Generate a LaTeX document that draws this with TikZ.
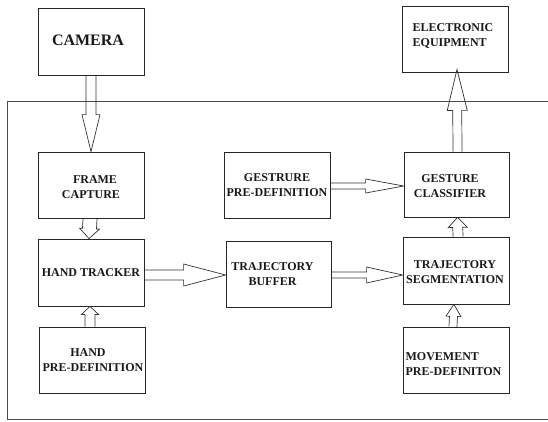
\documentclass[tikz,border=0pt]{standalone}
\usepackage{fontspec}
\setmainfont{Liberation Serif}
\usetikzlibrary{calc}
\newcommand\blockarrow[5]{%
  \coordinate (ba-s) at (#1);
  \coordinate (ba-t) at (#2);
  \coordinate (ba-h) at ($(ba-t)!#5!(ba-s)$);
  \draw[arrowline] ($(ba-s)!#3!90:(ba-t)$) -- ($(ba-h)!#3!90:(ba-t)$) -- ($(ba-h)!#4!90:(ba-t)$) -- (ba-t) -- ($(ba-h)!#4!-90:(ba-t)$) -- ($(ba-h)!#3!-90:(ba-t)$) -- ($(ba-s)!#3!-90:(ba-t)$);
}
\begin{document}
\begin{tikzpicture}[x=1pt,y=-1pt,
  box/.style={draw=black!85, line width=0.8pt, minimum width=106pt, minimum height=66pt, inner sep=0pt},
  txt/.style={font=\fontsize{12}{15}\selectfont\bfseries, align=center, inner sep=0pt, text=black!90},
  txtl/.style={txt, align=left},
  arrowline/.style={draw=black!80, line width=0.7pt, line join=miter}]
\useasboundingbox (0,0) rectangle (548,421);
\draw[draw=black!70, line width=0.9pt] (560,101) -- (7,101) -- (7,419) -- (560,419);

\node[box, minimum height=67pt, label={[txt, font=\fontsize{16}{18}\selectfont\bfseries, xshift=-3pt, yshift=1pt]center:CAMERA}] (cam) at (91,41.5) {};
\node[box, label={[txtl, xshift=-2pt, yshift=3.5pt]center:ELECTRONIC\\EQUIPMENT}] (equip) at (455,39) {};
\node[box, label={[txt, yshift=-2pt]center:\hspace*{8pt}FRAME\\CAPTURE}] (frame) at (91,185) {};
\node[box, label={[txt, yshift=-0.5pt]center:GESTRURE\\PRE-DEFINITION}] (gpre) at (277,185) {};
\node[box, minimum width=105pt, minimum height=65pt, label={[txt, xshift=-6.5pt, yshift=-1.5pt]center:GESTURE\\CLASSIFIER}] (classifier) at (456.5,184.5) {};
\node[box, minimum height=67pt, label={[txt]center:HAND TRACKER}] (tracker) at (91,272.5) {};
\node[box, minimum width=105pt, label={[txt, xshift=-6pt, yshift=-0.5pt]center:TRAJECTORY\\BUFFER}] (buffer) at (278.5,274) {};
\node[box, minimum height=67pt, label={[txt, xshift=-1pt, yshift=-2pt]center:TRAJECTORY\\SEGMENTATION}] (seg) at (456,270.5) {};
\node[box, label={[txt, xshift=1pt, yshift=-0.5pt]center:HAND\hspace*{10pt}\\PRE-DEFINITION}] (handpre) at (92,360) {};
\node[box, label={[txtl, xshift=-2.5pt, yshift=-4.5pt]center:MOVEMENT\\PRE-DEFINITON}] (movement) at (456,360) {};

\blockarrow{cam.south}{frame.north}{5pt}{9pt}{37pt}
\blockarrow{$(frame.south)+(-1,0)$}{$(tracker.north)+(-2,0)$}{7pt}{10pt}{10pt}
\blockarrow{$(handpre.north)+(-2,0)$}{$(tracker.south)+(-1,0)$}{5pt}{8.5pt}{8pt}
\blockarrow{$(tracker.east |- buffer.west)+(0,1)$}{$(buffer.west)+(0,1)$}{5pt}{11pt}{42pt}
\blockarrow{$(buffer.east)+(0,1)$}{$(seg.west |- buffer.east)+(0,1)$}{3pt}{8pt}{36pt}
\blockarrow{$(gpre.east)+(0,1)$}{$(classifier.west |- gpre.east)+(0,1)$}{3pt}{7pt}{38pt}
\blockarrow{$(seg.north)+(2,0)$}{$(classifier.south)+(1,0)$}{5pt}{9.5pt}{10pt}
\blockarrow{$(movement.north)+(-3,0)$}{$(seg.south)+(-2,0)$}{4pt}{7.5pt}{12pt}
\blockarrow{$(classifier.north)+(1,0)$}{$(equip.south)+(2,-3)$}{4.5pt}{10pt}{41pt}
\end{tikzpicture}
\end{document}
